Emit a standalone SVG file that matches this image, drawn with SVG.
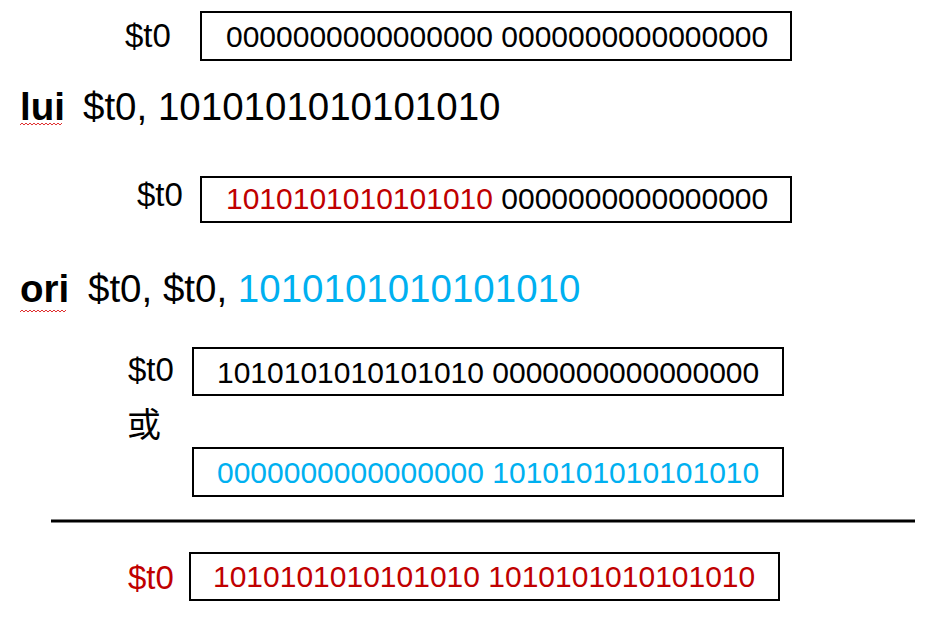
<svg xmlns="http://www.w3.org/2000/svg" width="925" height="617" viewBox="0 0 925 617">
<style>
.box{fill:#fff;stroke:#000;stroke-width:2}
.bt{font-family:"Liberation Sans",Arial,sans-serif;font-size:30px;fill:#000}
.lbl{font-family:"Liberation Sans",Arial,sans-serif;font-size:33px;fill:#000}
.ins{font-family:"Liberation Sans",Arial,sans-serif;font-size:38.5px;fill:#000}
.b{font-weight:bold}
.red{fill:#C00000}
.blue{fill:#00B0F0}
.sq{fill:none;stroke:#E03030;stroke-width:1}
</style>
<rect width="925" height="617" fill="#fff"/>
<g id="reg1">
<text class="lbl" x="125" y="47">$t0</text>
<rect class="box" x="201" y="12" width="590" height="48"/>
<text class="bt" x="226" y="47">0000000000000000 0000000000000000</text>
</g>
<g id="lui">
<text class="ins b" x="20" y="120">lui</text>
<path class="sq" d="M20 125 l2 -2 l2 2 l2 -2 l2 2 l2 -2 l2 2 l2 -2 l2 2 l2 -2 l2 2 l2 -2 l2 2 l2 -2 l2 2 l2 -2 l2 2 l2 -2 l2 2 l2 -2 l2 2 l2 -2"/>
<text class="ins" x="83" y="120">$t0, 1010101010101010</text>
</g>
<g id="reg2">
<text class="lbl" x="137" y="206">$t0</text>
<rect class="box" x="201" y="177" width="590" height="45"/>
<text class="bt" x="226" y="209"><tspan class="red">1010101010101010</tspan> 0000000000000000</text>
</g>
<g id="ori">
<text class="ins b" x="20" y="302">ori</text>
<path class="sq" d="M20 312 l2 -2 l2 2 l2 -2 l2 2 l2 -2 l2 2 l2 -2 l2 2 l2 -2 l2 2 l2 -2 l2 2 l2 -2 l2 2 l2 -2 l2 2 l2 -2 l2 2 l2 -2 l2 2 l2 -2 l2 2 l2 -2"/>
<text class="ins" x="88" y="302">$t0, $t0, <tspan class="blue">1010101010101010</tspan></text>
</g>
<g id="reg3">
<text class="lbl" x="128" y="381">$t0</text>
<rect class="box" x="193" y="348" width="590" height="47"/>
<text class="bt" x="217" y="383">1010101010101010 0000000000000000</text>
</g>
<g id="or">
<text x="127" y="437" style="font-family:'Noto Sans CJK SC',sans-serif;font-size:34px;fill:#000">或</text>
</g>
<g id="imm">
<rect class="box" x="193" y="448" width="590" height="48"/>
<text class="bt blue" x="217" y="483">0000000000000000 1010101010101010</text>
</g>
<g id="connectors">
<line x1="51" y1="521" x2="915" y2="521" stroke="#000" stroke-width="3"/>
</g>
<g id="result">
<text class="lbl red" x="128" y="589">$t0</text>
<rect class="box" x="190" y="553" width="589" height="47"/>
<text class="bt red" x="213" y="587">1010101010101010 1010101010101010</text>
</g>
</svg>
